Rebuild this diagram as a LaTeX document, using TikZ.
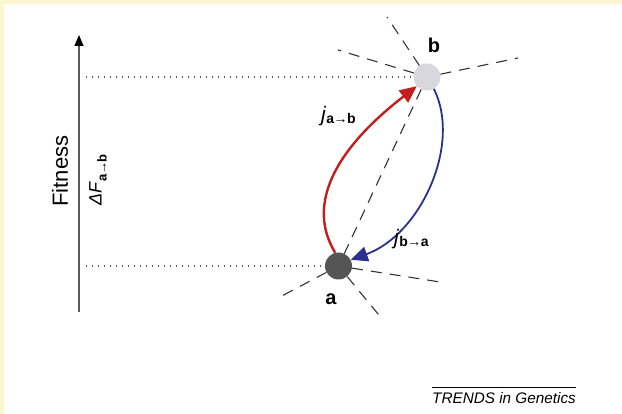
\documentclass[tikz,border=0pt]{standalone}
\usepackage{fontspec}
\setmainfont{Liberation Sans}
\usepackage{xcolor}
\usetikzlibrary{arrows.meta}
\definecolor{frameyellow}{HTML}{FCF7D2}
\definecolor{jred}{HTML}{C21F1A}
\definecolor{jblue}{HTML}{2D2F90}
\definecolor{statea}{HTML}{555555}
\definecolor{stateb}{HTML}{D9D7DE}
\newcommand{\fs}[1]{\fontsize{#1}{#1}\selectfont}

\begin{document}
\begin{tikzpicture}[x=1pt,y=-1pt,
  state/.style={circle, minimum size=27pt, inner sep=0pt},
  ray/.style={draw=black!80, line width=1.1pt, dash pattern=on 11pt off 8pt},
  level/.style={draw=black!65, line width=1.3pt, dash pattern=on 1.4pt off 4.6pt},
  flux/.style={-{Triangle[length=17pt,width=15pt]}},
  lbl/.style={inner sep=0pt, anchor=base, font=\fs{20}\bfseries}
]
\fill[frameyellow] (0,0) rectangle (622,414);
\fill[white] (4,4) rectangle (622,414);
\useasboundingbox (0,0) rectangle (622,414);

% fitness axis
\coordinate (ybot) at (79,312);
\coordinate (ytop) at (79,35);
\draw[draw=black!65, line width=1.4pt, -{Triangle[length=11pt,width=9pt,color=black]}] (ybot) -- (ytop);
\node[rotate=90, inner sep=0pt] (fit) at (60,171) {\fs{22}Fitness};
\node[rotate=90, inner sep=0pt] (dF) at (98,180) {\fs{18}\textit{ΔF}\raisebox{-5pt}{\fs{13}\bfseries a\kern-0.5pt→\kern-0.5pt b}};

% states
\node[state, fill=stateb] (b) at (427,77) {};
\node[state, fill=statea] (a) at (338.5,266) {};
\node[lbl] (blbl) at (434,53) {b};
\node[lbl] (albl) at (331,305) {a};

% other directions
\coordinate (b1) at (387,17);
\coordinate (b2) at (338,50);
\coordinate (b3) at (518,58);
\coordinate (a1) at (278,298);
\coordinate (a2) at (440,282);
\coordinate (a3) at (383,320);
\draw[ray] (b) -- (b1); \draw[ray] (b) -- (b2); \draw[ray] (b) -- (b3);
\draw[ray] (a) -- (a1); \draw[ray] (a) -- (a2); \draw[ray] (a) -- (a3);
\draw[ray] (b) -- (a);

% fitness levels
\coordinate (lb) at (86,77);
\coordinate (la) at (86,266);
\draw[level] (lb) -- (b);
\draw[level] (la) -- (a);

% fluxes
\draw[flux, jred, line width=2.4pt] (a.104) .. controls (296,188) and (368,124) .. (b.222);
\draw[flux, jblue, line width=1.8pt] (b.-60) .. controls (462,145) and (420,235) .. (a.27);
\node[anchor=base west, inner sep=0pt] (jab) at (321,122) {\fs{21}\textit{j}\raisebox{-2pt}{\fs{14}\bfseries a\kern-0.5pt→\kern-0.5pt b}};
\node[anchor=base west, inner sep=0pt] (jba) at (394,245) {\fs{21}\textit{j}\raisebox{-2pt}{\fs{14}\bfseries b\kern-0.5pt→\kern-0.5pt a}};

% journal tag
\node[inner sep=0pt, anchor=base] (trends) at (504,403) {\fs{15.3}\itshape TRENDS in Genetics};
\coordinate (ruleL) at (432,387);
\coordinate (ruleR) at (576,387);
\draw[line width=0.8pt] (ruleL) -- (ruleR);
\end{tikzpicture}
\end{document}
